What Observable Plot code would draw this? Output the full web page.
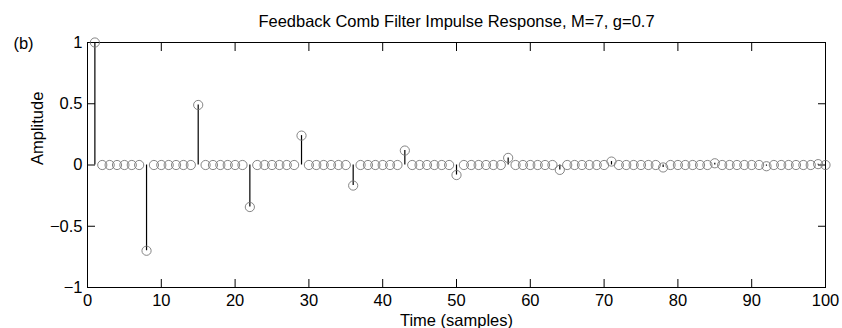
<!DOCTYPE html>
<html>
<head>
<meta charset="utf-8">
<script src="https://cdn.jsdelivr.net/npm/d3@7"></script>
<script src="https://cdn.jsdelivr.net/npm/@observablehq/plot@0.6"></script>
<style>
  html, body { margin: 0; padding: 0; background: #fff; }
  svg { display: block; }
</style>
</head>
<body>
<div id="chart"></div>
<script>
const title = "Feedback Comb Filter Impulse Response, M=7, g=0.7";
const panelLabel = "(b)";
const xLabel = "Time (samples)";
const yLabel = "Amplitude";

const samples = [
  1, 2, 3, 4, 5, 6, 7, 8, 9, 10,
  11, 12, 13, 14, 15, 16, 17, 18, 19, 20,
  21, 22, 23, 24, 25, 26, 27, 28, 29, 30,
  31, 32, 33, 34, 35, 36, 37, 38, 39, 40,
  41, 42, 43, 44, 45, 46, 47, 48, 49, 50,
  51, 52, 53, 54, 55, 56, 57, 58, 59, 60,
  61, 62, 63, 64, 65, 66, 67, 68, 69, 70,
  71, 72, 73, 74, 75, 76, 77, 78, 79, 80,
  81, 82, 83, 84, 85, 86, 87, 88, 89, 90,
  91, 92, 93, 94, 95, 96, 97, 98, 99, 100
];
const amplitude = [
  1, 0, 0, 0, 0, 0, 0, -0.7, 0, 0,
  0, 0, 0, 0, 0.49, 0, 0, 0, 0, 0,
  0, -0.343, 0, 0, 0, 0, 0, 0, 0.24, 0,
  0, 0, 0, 0, 0, -0.168, 0, 0, 0, 0,
  0, 0, 0.118, 0, 0, 0, 0, 0, 0, -0.082,
  0, 0, 0, 0, 0, 0, 0.058, 0, 0, 0,
  0, 0, 0, -0.04, 0, 0, 0, 0, 0, 0,
  0.028, 0, 0, 0, 0, 0, 0, -0.02, 0, 0,
  0, 0, 0, 0, 0.014, 0, 0, 0, 0, 0,
  0, -0.01, 0, 0, 0, 0, 0, 0, 0.007, 0
];
const xTicks = [0, 10, 20, 30, 40, 50, 60, 70, 80, 90, 100];
const yTicks = [-1, -0.5, 0, 0.5, 1];

const data = samples.map((t, i) => ({t, a: amplitude[i]}));
const fmt = d => String(d).replace("-", "\u2212");
const blank = () => "";
const FS = 16.5;

const chart = Plot.plot({
  width: 842,
  height: 328,
  marginLeft: 87,
  marginRight: 17,
  marginTop: 42,
  marginBottom: 41,
  style: {fontFamily: "'Liberation Sans', Arial, sans-serif", fontSize: FS + "px", color: "black", background: "white"},
  x: {domain: [0, 100]},
  y: {domain: [-1, 1]},
  marks: [
    Plot.frame({stroke: "black", strokeWidth: 1}),
    Plot.axisX(xTicks, {anchor: "bottom", tickSize: -8, tickPadding: 15, tickFormat: fmt, label: null, fontSize: FS}),
    Plot.axisX(xTicks, {anchor: "top", tickSize: -8, tickFormat: blank, label: null}),
    Plot.axisY(yTicks, {anchor: "left", tickSize: -8, tickPadding: 13, tickFormat: fmt, label: null, fontSize: FS}),
    Plot.axisY(yTicks, {anchor: "right", tickSize: -8, tickFormat: blank, label: null}),
    Plot.ruleX(data, {x: "t", y1: 0, y2: "a", stroke: "black", strokeWidth: 1.2}),
    Plot.dot(data, {x: "t", y: "a", r: 4.6, stroke: "#777", strokeWidth: 0.9, fill: "none"}),
    Plot.text([title], {frameAnchor: "top", lineAnchor: "middle", dy: -21, fontSize: FS, fill: "black"}),
    Plot.text([panelLabel], {frameAnchor: "top-left", lineAnchor: "middle", dx: -64, dy: 1, textAnchor: "middle", fontSize: FS, fill: "black"}),
    Plot.text([yLabel], {frameAnchor: "left", lineAnchor: "middle", dx: -50, rotate: -90, fontSize: FS, fill: "black"}),
    Plot.text([xLabel], {frameAnchor: "bottom", lineAnchor: "middle", dy: 33, fontSize: FS, fill: "black"})
  ]
});
document.getElementById("chart").appendChild(chart);
</script>
</body>
</html>
